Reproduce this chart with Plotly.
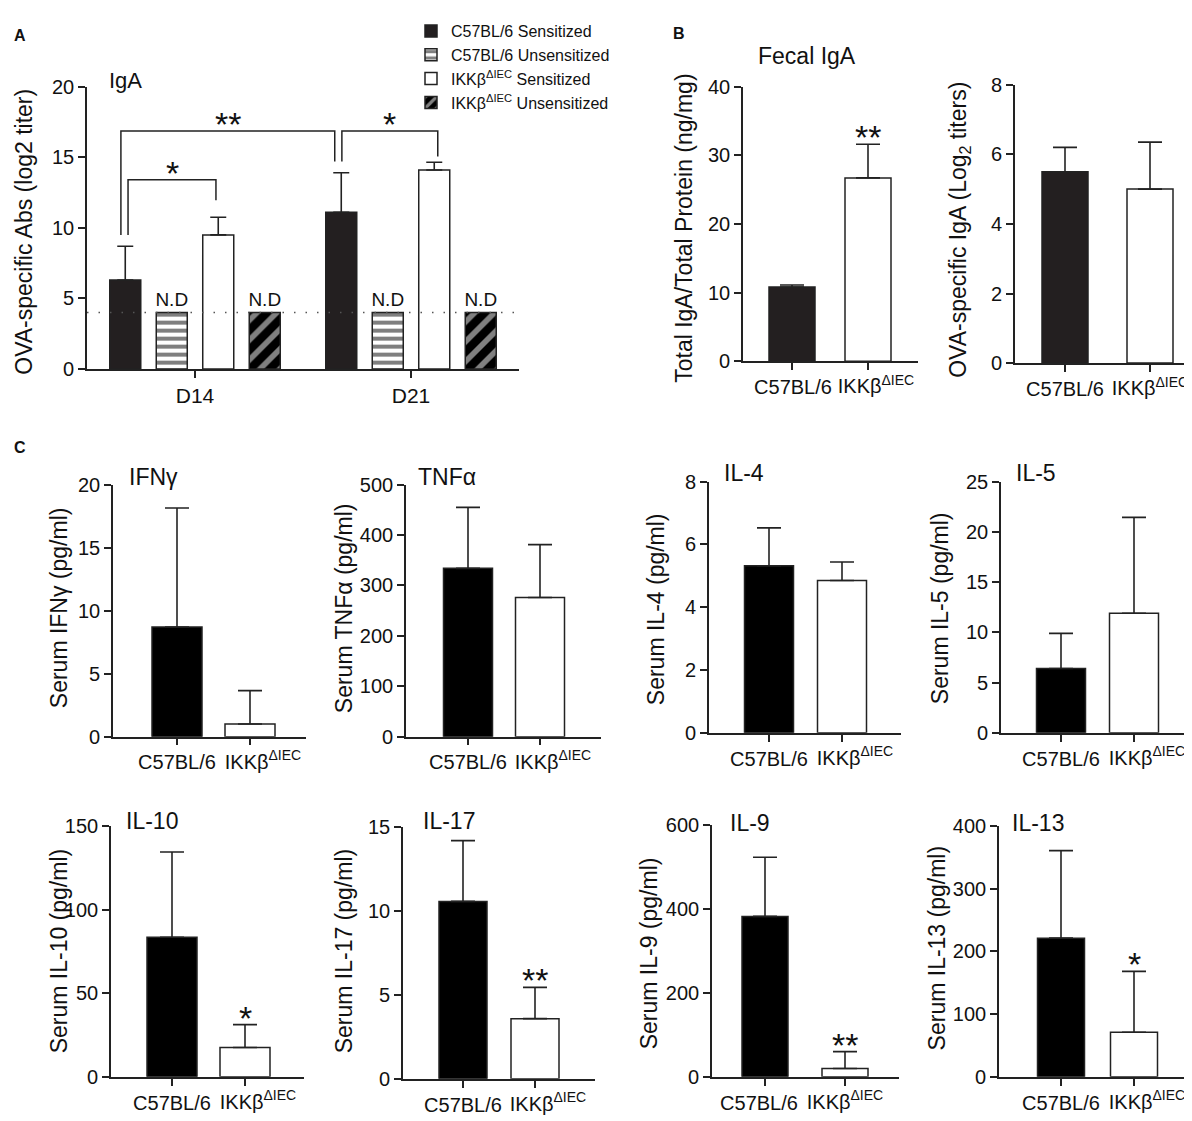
"""
OVA sensitization: IgA titres, fecal IgA and serum cytokines
C57BL/6 vs IKKb(dIEC) mice - GraphPad style multi-panel bar figure
"""

import plotly.graph_objects as go

W, H = 1192, 1121
FONT = "Liberation Sans, Arial, sans-serif"
INK = "#222222"

# =====================================================
# DATA
# =====================================================
# Panel A - OVA-specific IgA, log2 titer
days = ["D14", "D21"]
a_c57_sens = [6.3, 11.1]
a_c57_sens_err = [2.4, 2.8]
a_c57_unsens = [4.0, 4.0]
a_ikk_sens = [9.5, 14.1]
a_ikk_sens_err = [1.25, 0.55]
a_ikk_unsens = [4.0, 4.0]
detect_limit = 4.0

# significance brackets (x on category scale): label, x left, x right, y left foot, y top, y right foot
a_brackets = [
    ("**", -0.343, 0.647, 9.5, 16.85, 14.7),
    ("*", -0.310, 0.097, 9.5, 13.4, 11.95),
    ("*", 0.680, 1.124, 14.7, 16.85, 15.05),
]

groups = ["C57BL/6", "IKKβ<sup>ΔIEC</sup>"]

# Panel B
fecal_total = [10.8, 26.7]
fecal_total_err = [0.3, 4.9]
fecal_ova = [5.5, 5.0]
fecal_ova_err = [0.7, 1.35]

# Panel C - serum cytokines (pg/ml)
ifng = [8.7, 1.0]
ifng_err = [9.45, 2.65]
tnfa = [334, 276]
tnfa_err = [121, 105]
il4 = [5.32, 4.85]
il4_err = [1.21, 0.59]
il5 = [6.4, 11.9]
il5_err = [3.5, 9.55]
il10 = [83.4, 17.5]
il10_err = [51, 13.7]
il17 = [10.56, 3.58]
il17_err = [3.62, 1.86]
il9 = [382, 20]
il9_err = [141, 40]
il13 = [221, 71]
il13_err = [139.5, 97]

# =====================================================
# PANEL LAYOUT
# box = pixel box: x0, x end, y top, y bottom, centre cat0, centre cat1, bar width
# shift = px shift of the two tick labels (GraphPad nudges the 2nd one right)
# =====================================================
panels = [
    dict(vals=fecal_total, err=fecal_total_err, ymax=40, dtick=10, star="**", shift=(1, 8),
         box=(735, 910, 69, 349, 784, 860, 46), title="Fecal IgA", tpos=(748, 38),
         ytitle="Total IgA/Total Protein (ng/mg)", ypos=(676, 214), black="#231f20"),
    dict(vals=fecal_ova, err=fecal_ova_err, ymax=8, dtick=2, star="", shift=(0, 0),
         box=(1007, 1189, 67, 351, 1057, 1142, 46), title="", tpos=(0, 0),
         ytitle="OVA-specific IgA (Log<sub>2</sub> titers)", ypos=(952, 215), black="#231f20"),
    dict(vals=ifng, err=ifng_err, ymax=20, dtick=5, star="", shift=(0, 13),
         box=(105, 298, 475, 732, 169, 242, 50), title="IFNγ", tpos=(119, 467),
         ytitle="Serum IFNγ (pg/ml)", ypos=(51, 601), black="#000000"),
    dict(vals=tnfa, err=tnfa_err, ymax=500, dtick=100, star="", shift=(0, 13),
         box=(398, 593, 475, 732, 460, 532, 49), title="TNFα", tpos=(408, 467),
         ytitle="Serum TNFα (pg/ml)", ypos=(336, 601), black="#000000"),
    dict(vals=il4, err=il4_err, ymax=8, dtick=2, star="", shift=(0, 13),
         box=(701, 893, 472, 728, 761, 834, 49), title="IL-4", tpos=(714, 463),
         ytitle="Serum IL-4 (pg/ml)", ypos=(648, 602), black="#000000"),
    dict(vals=il5, err=il5_err, ymax=25, dtick=5, star="", shift=(0, 13),
         box=(993, 1184, 472, 728, 1053, 1126, 49), title="IL-5", tpos=(1006, 463),
         ytitle="Serum IL-5 (pg/ml)", ypos=(932, 601), black="#000000"),
    dict(vals=il10, err=il10_err, ymax=150, dtick=50, star="*", shift=(0, 13),
         box=(103, 296, 823, 1079, 164, 237, 50), title="IL-10", tpos=(116, 818),
         ytitle="Serum IL-10 (pg/ml)", ypos=(51, 951), black="#000000"),
    dict(vals=il17, err=il17_err, ymax=15, dtick=5, star="**", shift=(0, 13),
         box=(395, 587, 824, 1081, 455, 527, 48), title="IL-17", tpos=(413, 818),
         ytitle="Serum IL-17 (pg/ml)", ypos=(336, 951), black="#000000"),
    dict(vals=il9, err=il9_err, ymax=600, dtick=200, star="**", shift=(-6, 0),
         box=(704, 891, 822, 1079, 757, 837, 46), title="IL-9", tpos=(720, 820),
         ytitle="Serum IL-9 (pg/ml)", ypos=(641, 953), black="#000000"),
    dict(vals=il13, err=il13_err, ymax=400, dtick=100, star="*", shift=(0, 13),
         box=(991, 1182, 823, 1079, 1053, 1126, 47), title="IL-13", tpos=(1002, 820),
         ytitle="Serum IL-13 (pg/ml)", ypos=(929, 948), black="#000000"),
]


def px_x(v):
    return v / W


def px_y(v):
    return 1 - v / H


def axis_common():
    return dict(showline=True, linecolor=INK, linewidth=1.6, ticks="outside", ticklen=7,
                tickwidth=1.5, tickcolor=INK, showgrid=False, zeroline=False,
                tickfont=dict(size=20, color="#111", family=FONT), fixedrange=True)


fig = go.Figure()
layout = {}
annotations = []
shapes = []

# =====================================================
# PANEL A
# =====================================================
err_style = dict(type="data", symmetric=False, color=INK, thickness=1.6, width=8)
bar_line = dict(color=INK, width=1.5)
nd_font = dict(size=19, color="#111", family=FONT)

fig.add_trace(go.Bar(
    x=days, y=a_c57_sens, name="C57BL/6 Sensitized",
    marker=dict(color="#231f20", line=bar_line),
    error_y=dict(array=a_c57_sens_err, arrayminus=[0, 0], **err_style),
    xaxis="x", yaxis="y"))
fig.add_trace(go.Bar(
    x=days, y=a_c57_unsens, name="C57BL/6 Unsensitized",
    marker=dict(color="white", line=bar_line,
                pattern=dict(shape="-", fgcolor="black", bgcolor="white", size=8, solidity=0.5)),
    text=["N.D", "N.D"], textposition="outside", constraintext="none", cliponaxis=False,
    textfont=nd_font, xaxis="x", yaxis="y"))
fig.add_trace(go.Bar(
    x=days, y=a_ikk_sens, name="IKKβ<sup>ΔIEC</sup> Sensitized",
    marker=dict(color="white", line=bar_line),
    error_y=dict(array=a_ikk_sens_err, arrayminus=[0, 0], **err_style),
    xaxis="x", yaxis="y"))
fig.add_trace(go.Bar(
    x=days, y=a_ikk_unsens, name="IKKβ<sup>ΔIEC</sup> Unsensitized",
    marker=dict(color="black", line=bar_line,
                pattern=dict(shape="/", fgcolor="white", bgcolor="black", size=14, solidity=0.4)),
    text=["N.D", "N.D"], textposition="outside", constraintext="none", cliponaxis=False,
    textfont=nd_font, xaxis="x", yaxis="y"))

layout["xaxis"] = dict(axis_common(), domain=[px_x(79), px_x(511)], anchor="y",
                       range=[-0.5, 1.5], tickangle=0,
                       tickfont=dict(size=21, color="#111", family=FONT))
layout["yaxis"] = dict(axis_common(), domain=[px_y(357), px_y(69)], anchor="x",
                       range=[0, 20], dtick=5)

# detection limit
shapes.append(dict(type="line", xref="x domain", yref="y", x0=0, x1=1,
                   y0=detect_limit, y1=detect_limit,
                   line=dict(color="#555", width=1.5, dash="1.5px,10px")))

# significance brackets
for label, xl, xr, yl, yt, yr in a_brackets:
    shapes.append(dict(type="path", xref="x", yref="y",
                       path=f"M {xl},{yl} L {xl},{yt} L {xr},{yt} L {xr},{yr}",
                       line=dict(color=INK, width=1.5)))
    annotations.append(dict(x=(xl + xr) / 2, y=yt, xref="x", yref="y", text=label,
                            showarrow=False, yanchor="bottom", yshift=-14,
                            font=dict(size=34, color="#111", family=FONT)))

annotations.append(dict(x=px_x(99), y=px_y(63), xref="paper", yref="paper", text="IgA",
                        showarrow=False, xanchor="left", yanchor="middle",
                        font=dict(size=22, color="#111", family=FONT)))
annotations.append(dict(x=px_x(16), y=px_y(217), xref="paper", yref="paper",
                        text="OVA-specific Abs (log2 titer)", textangle=-90,
                        showarrow=False, xanchor="center", yanchor="middle",
                        font=dict(size=23, color="#111", family=FONT)))

# =====================================================
# PANELS B and C
# =====================================================
n_panels = len(panels)
for i, p in enumerate(panels, start=2):
    x0, xe, yt, yb, c0, c1, bw = p["box"]
    unit = c1 - c0
    xrange = [(x0 - c0) / unit, (xe - c0) / unit]
    xa, xb, ya = f"x{i}", f"x{i + n_panels}", f"y{i}"
    bar_err = dict(type="data", symmetric=False, color=INK, thickness=1.6, width=12)
    # C57BL/6 bar on the base axis, IKKb bar on an overlay axis that carries its own label
    fig.add_trace(go.Bar(
        x=[0], y=p["vals"][:1], width=bw / unit, showlegend=False, name=groups[0],
        marker=dict(color=p["black"], line=bar_line),
        error_y=dict(array=p["err"][:1], arrayminus=[0], **bar_err),
        xaxis=xa, yaxis=ya))
    fig.add_trace(go.Bar(
        x=[1], y=p["vals"][1:], width=bw / unit, showlegend=False, name=groups[1],
        marker=dict(color="white", line=bar_line),
        error_y=dict(array=p["err"][1:], arrayminus=[0], **bar_err),
        xaxis=xb, yaxis=ya))
    tick_font = dict(size=20, color="#111", family=FONT)
    layout[f"xaxis{i}"] = dict(axis_common(), domain=[px_x(x0), px_x(xe)], anchor=ya,
                               range=xrange, tickangle=0, tickmode="array",
                               tickvals=[0, 1], ticktext=[groups[0], " "],
                               ticklabelshift=p["shift"][0], tickfont=tick_font)
    layout[f"xaxis{i + n_panels}"] = dict(
        overlaying=xa, anchor=ya, side="bottom", range=xrange, showline=False,
        ticks="outside", ticklen=7, tickwidth=1.5, tickcolor="rgba(0,0,0,0)",
        showgrid=False, zeroline=False, tickangle=0, tickmode="array",
        tickvals=[1], ticktext=[groups[1]], ticklabelshift=p["shift"][1],
        tickfont=tick_font, fixedrange=True)
    layout[f"yaxis{i}"] = dict(axis_common(), domain=[px_y(yb), px_y(yt)], anchor=xa,
                               range=[0, p["ymax"]], dtick=p["dtick"])
    if p["title"]:
        annotations.append(dict(x=px_x(p["tpos"][0]), y=px_y(p["tpos"][1]),
                                xref="paper", yref="paper", text=p["title"],
                                showarrow=False, xanchor="left", yanchor="middle",
                                font=dict(size=23, color="#111", family=FONT)))
    annotations.append(dict(x=px_x(p["ypos"][0]), y=px_y(p["ypos"][1]),
                            xref="paper", yref="paper", text=p["ytitle"], textangle=-90,
                            showarrow=False, xanchor="center", yanchor="middle",
                            font=dict(size=23, color="#111", family=FONT)))
    if p["star"]:
        annotations.append(dict(x=1, y=p["vals"][1] + p["err"][1], xref=xa, yref=ya,
                                text=p["star"], showarrow=False, yanchor="bottom", yshift=-14,
                                font=dict(size=34, color="#111", family=FONT)))

# panel letters
for letter, (lx, ly) in {"A": (12, 17), "B": (671, 15), "C": (12, 437)}.items():
    annotations.append(dict(x=px_x(lx), y=px_y(ly), xref="paper", yref="paper",
                            text=f"<b>{letter}</b>", showarrow=False,
                            xanchor="center", yanchor="middle",
                            font=dict(size=16, color="#111", family=FONT)))

fig.update_layout(
    **layout,
    width=W, height=H,
    margin=dict(l=0, r=0, t=0, b=0),
    paper_bgcolor="white",
    plot_bgcolor="white",
    barmode="group",
    bargap=0.139,
    bargroupgap=0.333,
    font=dict(family=FONT, color="#111"),
    showlegend=True,
    legend=dict(x=px_x(403), y=1 + 5 / H, xanchor="left", yanchor="top",
                font=dict(size=16, color="#111", family=FONT),
                bgcolor="rgba(0,0,0,0)", tracegroupgap=0, itemwidth=30),
    annotations=annotations,
    shapes=shapes,
)

fig.write_html("out.html")
